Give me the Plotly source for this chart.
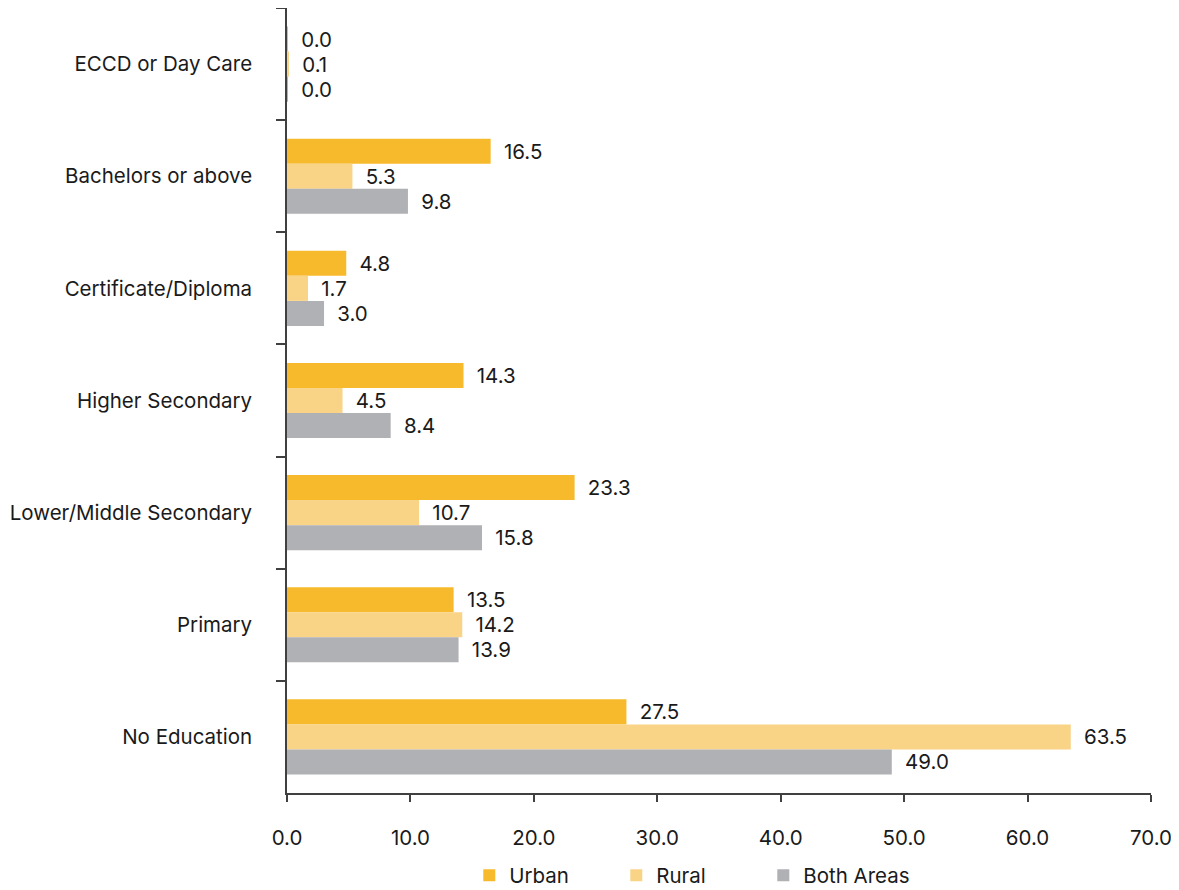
import plotly.graph_objects as go

categories = ["ECCD or Day Care", "Bachelors or above", "Certificate/Diploma",
              "Higher Secondary", "Lower/Middle Secondary", "Primary", "No Education"]
urban = [0.04, 16.5, 4.8, 14.3, 23.3, 13.5, 27.5]
rural = [0.1, 5.3, 1.7, 4.5, 10.7, 14.2, 63.5]
both = [0.04, 9.8, 3.0, 8.4, 15.8, 13.9, 49.0]
series_names = ["Urban", "Rural", "Both Areas"]
colors = ["#F7BA2C", "#F9D386", "#B0B1B4"]
x_ticks = [0, 10, 20, 30, 40, 50, 60, 70]

FONT = "Inter"
FS = 20.5
TXT = "#1a1a1a"
fig = go.Figure()
for name, vals, col in zip(series_names, [urban, rural, both], colors):
    fig.add_trace(go.Bar(
        y=categories, x=vals, name=name, orientation="h",
        marker=dict(color=col, line=dict(width=0)),
        text=["\u2002" + f"{v:.1f}" for v in vals], textposition="outside",
        textfont=dict(family=FONT, size=FS, color=TXT),
        cliponaxis=False,
    ))

fig.update_layout(
    width=1171, height=882,
    margin=dict(l=279, r=28, t=0, b=97, autoexpand=False),
    paper_bgcolor="white", plot_bgcolor="white",
    barmode="group", bargap=0.33, bargroupgap=0,
    font=dict(family=FONT, size=FS, color=TXT),
    showlegend=True,
    legend=dict(orientation="h", x=0.211, xanchor="left", y=-0.0795, yanchor="top",
                font=dict(family=FONT, size=FS, color=TXT),
                entrywidth=102, entrywidthmode="pixels"),
)
fig.update_xaxes(range=[0, 70], tickvals=x_ticks, ticktext=[f"{t:.1f}" for t in x_ticks],
                 automargin=False,
                 showgrid=False, zeroline=False, showline=True, linecolor="#404040", linewidth=1.5,
                 ticks="outside", ticklen=7, tickcolor="#404040", tickwidth=1.5,
                 ticklabelstandoff=19, tickfont=dict(family=FONT, size=FS, color=TXT))
fig.update_yaxes(autorange="reversed", automargin=False, showgrid=False, zeroline=False, showline=True,
                 linecolor="#404040", linewidth=1.5, ticks="outside", ticklen=9,
                 tickcolor="#404040", tickwidth=1.5, tickson="boundaries",
                 ticklabelstandoff=29, tickfont=dict(family=FONT, size=FS, color=TXT))

fig.write_html("out.html")
